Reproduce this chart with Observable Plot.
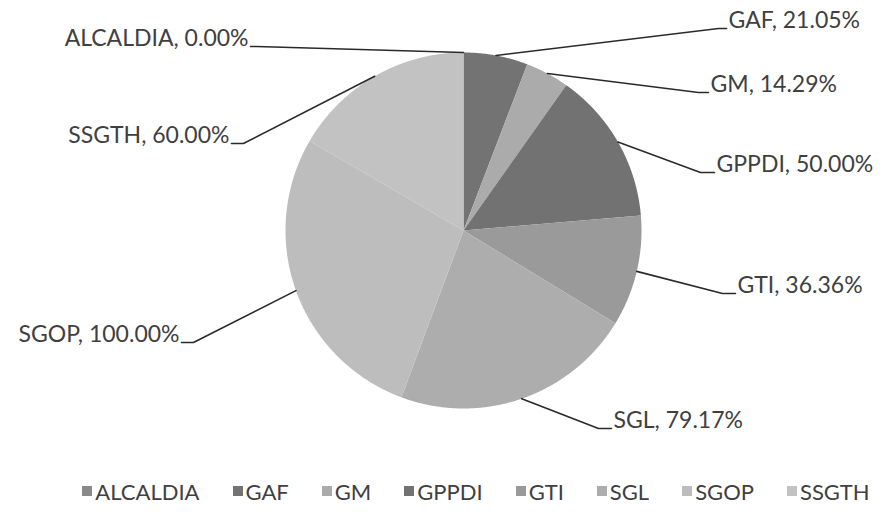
<!DOCTYPE html>
<html>
<head>
<meta charset="utf-8">
<script src="https://cdn.jsdelivr.net/npm/d3@7"></script>
<script src="https://cdn.jsdelivr.net/npm/@observablehq/plot@0.6"></script>
<style>
  body { margin: 0; background: #fff; }
  #chart { width: 882px; height: 512px; overflow: hidden; }
  #chart svg { display: block; }
  .lg-swatches { font-family: Lato, "Open Sans", sans-serif !important; font-size: 22px !important; color: #404040 !important;
    margin: 0 !important; display: flex !important; justify-content: center; align-items: center; height: 46px; min-height: 0 !important;
    flex-wrap: nowrap !important; box-sizing: border-box; width: 882px; padding-left: 70px; }
  .lg-swatch { margin-right: 33px !important; display: inline-flex; align-items: center; }
  .lg-swatch:last-child { margin-right: 0 !important; }
  .lg-swatch > svg { margin-right: 3px !important; }
</style>
</head>
<body>
<div id="chart"></div>
<script>
// ---- data ----
const categories = ["ALCALDIA", "GAF", "GM", "GPPDI", "GTI", "SGL", "SGOP", "SSGTH"];
const values = [0.00, 21.05, 14.29, 50.00, 36.36, 79.17, 100.00, 60.00];
const shades = ["#8a8a8a", "#737373", "#ababab", "#727272", "#9a9a9a", "#adadad", "#bdbdbd", "#c2c2c2"];

// ---- layout (pixels relative to the pie centre, y up) ----
const W = 882, H = 468, CX = 463, CY = 230, R = 178;
const elbows = [[-207, 184], [255, 202], [235, 138], [237, 58], [259, -63], [135, -198], [-270, -112], [-220, 87]];
const tickLens = [6, 8, 10, 14, 13, 13, 12, 12];
const fontFamily = "Lato, 'Open Sans', sans-serif";
const textColor = "#404040";

const data = categories.map((name, i) => ({name, value: values[i]}));
const arcs = d3.pie().sort(null).value(d => d.value).startAngle(0).endAngle(2 * Math.PI)(data);

// slice outlines
const slices = [];
arcs.forEach(a => {
  if (a.endAngle - a.startAngle <= 0) return;
  const name = a.data.name;
  slices.push({name, x: 0, y: 0});
  const n = Math.max(2, Math.ceil((a.endAngle - a.startAngle) / 0.005));
  for (let k = 0; k <= n; k++) {
    const t = a.startAngle + (a.endAngle - a.startAngle) * k / n;
    slices.push({name, x: R * Math.sin(t), y: R * Math.cos(t)});
  }
  slices.push({name, x: 0, y: 0});
});

// leader lines and labels
const leaders = [];
const labels = [];
arcs.forEach((a, i) => {
  const name = a.data.name;
  const mid = (a.startAngle + a.endAngle) / 2;
  const [ex, ey] = elbows[i];
  const side = ex < 0 ? -1 : 1;
  const tx = ex + side * tickLens[i];
  leaders.push({name, x: R * Math.sin(mid), y: R * Math.cos(mid)});
  leaders.push({name, x: ex, y: ey});
  leaders.push({name, x: tx, y: ey});
  labels.push({name, x: tx + side * 2, y: ey, anchor: side < 0 ? "end" : "start",
               text: `${name}, ${a.data.value.toFixed(2)}%`});
});

const plot = Plot.plot({
  width: W, height: H, margin: 0,
  x: {domain: [-CX, W - CX], axis: null},
  y: {domain: [-(H - CY), CY], axis: null},
  color: {domain: categories, range: shades},
  style: {background: "#fff"},
  marks: [
    Plot.line(slices, {x: "x", y: "y", z: "name", fill: "name", stroke: "none"}),
    Plot.line(leaders, {x: "x", y: "y", z: "name", stroke: "#2a2a2a", strokeWidth: 1.6}),
    Plot.text(labels.filter(d => d.anchor === "start"), {x: "x", y: "y", text: "text", textAnchor: "start", dy: -8,
      fontSize: 23, fontFamily, fill: textColor}),
    Plot.text(labels.filter(d => d.anchor === "end"), {x: "x", y: "y", text: "text", textAnchor: "end", dy: -8,
      fontSize: 23, fontFamily, fill: textColor})
  ]
});

const legend = Plot.legend({
  color: {domain: categories, range: shades},
  legend: "swatches", className: "lg", swatchSize: 10
});

const chart = document.getElementById("chart");
chart.appendChild(plot);
chart.appendChild(legend);
</script>
</body>
</html>
